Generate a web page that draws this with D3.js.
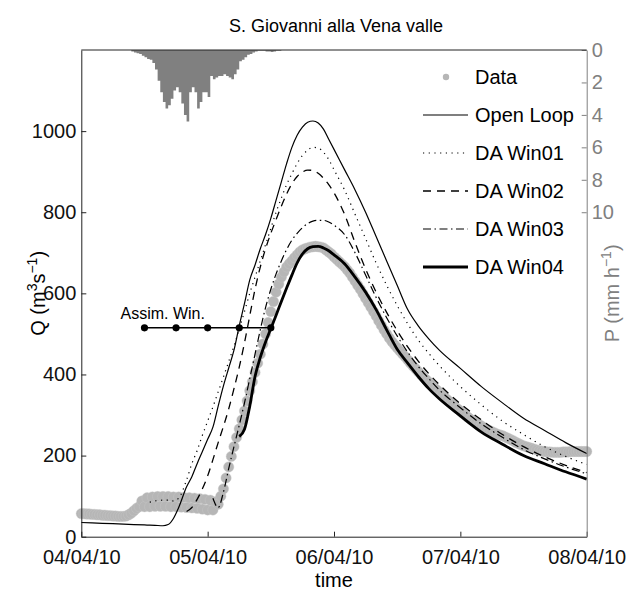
<!DOCTYPE html>
<html>
<head>
<meta charset="utf-8">
<script src="https://cdn.jsdelivr.net/npm/d3@7"></script>
<style>
  body { margin: 0; background: #fff; }
  svg { font-family: "Liberation Sans", Arial, Helvetica, sans-serif; }
</style>
</head>
<body>
<svg id="chart"></svg>
<script>
// hours since 04/04/10 00:00 for the model runs
const simHours = [0, 4, 8, 12, 13, 14, 15.5, 16.5, 17.5, 18.5,
  20, 21, 22, 23, 24, 25, 26, 27, 28, 29,
  30, 31, 32, 33, 34, 35, 36, 37, 38, 39,
  40, 41, 42, 43, 44, 45, 46, 47, 48, 50,
  52, 54, 56, 58, 60, 62, 64, 66, 68, 72,
  76, 80, 84, 88, 92, 96];

const openLoop = [35, 33, 31, 29, 28.5, 28, 27, 30, 45, 72,
  123, 148, 180, 210, 240, 270, 322, 372, 416, 460,
  520, 575, 633, 670, 710, 745, 785, 830, 875, 920,
  960, 990, 1010, 1022, 1025, 1020, 1005, 980, 955, 905,
  855, 800, 740, 680, 620, 560, 520, 488, 460, 415,
  370, 330, 292, 262, 232, 205];

const daWin01 = [null, null, null, null, 85, 88, 90, 90, 88, 95,
  140, 180, 212, 250, 285, 320, 357, 394, 432, 470,
  512, 555, 600, 640, 680, 720, 760, 800, 835, 868,
  895, 920, 940, 953, 960, 958, 948, 930, 905, 855,
  795, 735, 675, 620, 570, 525, 485, 452, 422, 370,
  325, 285, 252, 222, 198, 178];

const daWin02 = [null, null, null, null, null, null, null, null, null, null,
  62, 72, 92, 118, 150, 190, 232, 272, 315, 365,
  418, 478, 545, 610, 665, 710, 748, 782, 815, 845,
  870, 888, 899, 904, 903, 896, 884, 868, 848, 795,
  725, 660, 603, 553, 508, 468, 433, 402, 375, 328,
  288, 252, 222, 197, 176, 158];

const daWin03 = [null, null, null, null, null, null, null, null, null, null,
  null, null, null, null, null, 95, 72, 110, 168, 222,
  275, 330, 390, 450, 510, 565, 610, 648, 680, 708,
  731, 748, 762, 772, 778, 780, 780, 776, 768, 745,
  700, 645, 590, 540, 495, 455, 420, 390, 362, 318,
  278, 245, 215, 192, 172, 155];

const daWin04 = [null, null, null, null, null, null, null, null, null, null,
  null, null, null, null, null, null, null, null, null, null,
  247, 265, 322, 395, 442, 480, 513, 546, 580, 613,
  645, 675, 697, 710, 715, 716, 712, 705, 695, 673,
  640, 603, 560, 510, 462, 428, 395, 365, 340, 298,
  258, 228, 200, 180, 160, 142];

// observed discharge, one value every 30 min from 04/04/10 00:00
const observedQ = [
  57, 57, 56, 56, 55, 55, 54, 54, 53, 53, 52, 52, 51, 51, 50, 50, 50, 51, 54, 58,
  64, 70, 74, 88, 74, 96, 74, 98, 75, 99, 75, 99, 75, 99, 74, 98, 74, 98, 73, 97,
  72, 96, 71, 95, 70, 94, 68, 92, 66, 90, 66, 86, 80, 100, 118, 145, 172, 198, 222, 245,
  266, 288, 310, 335, 360, 382, 405, 428, 450, 475, 500, 528, 555, 580, 603, 623, 640, 653, 665, 673,
  680, 688, 695, 702, 707, 710, 712, 714, 715, 716, 715, 714, 712, 707, 702, 697, 690, 684, 678, 672,
  666, 658, 650, 640, 630, 620, 610, 599, 588, 577, 566, 555, 544, 532, 521, 510, 500, 490, 481, 473,
  466, 458, 451, 444, 436, 428, 421, 414, 407, 400, 393, 387, 381, 375, 368, 362, 356, 350, 344, 338,
  332, 326, 320, 315, 310, 304, 299, 294, 289, 285, 281, 277, 273, 269, 265, 262, 259, 256, 253, 251,
  249, 246, 243, 240, 237, 233, 230, 227, 224, 222, 220, 218, 216, 214, 212, 211, 210, 209, 209, 208,
  208, 208, 208, 209, 209, 209, 210, 210, 210, 210, 210, 210, 210];

// rainfall (mm/h), one value every 30 min starting at 09:30 on 04/04/10
const rainStartHour = 9.5;
const rain = [0.1, 0.15, 0.2, 0.25, 0.35, 0.45, 0.55, 0.6, 0.8, 1.2,
  1.9, 2.6, 3.2, 3.6, 3.4, 3.0, 2.5, 2.3, 2.6, 3.3,
  4.0, 4.4, 2.6, 2.3, 2.6, 3.6, 3.2, 2.6, 2.6, 2.9,
  1.6, 1.8, 1.7, 1.6, 1.6, 1.5, 1.6, 1.7, 1.8, 1.5,
  1.2, 0.7, 0.6, 0.45, 0.3, 0.25, 0.15, 0.1, 0.05, 0.05,
  0.05, 0.1, 0.1, 0.12, 0.1, 0.05, 0.05, 0];

const assimHours = [12, 18, 24, 30, 36];
const assimLevel = 515;

const qTicks = [0, 200, 400, 600, 800, 1000];
const pTicks = [0, 2, 4, 6, 8, 10];
const legendNames = ['Data', 'Open Loop', 'DA Win01', 'DA Win02', 'DA Win03', 'DA Win04'];

const width = 628, height = 594;
const margin = { top: 50, right: 41.3, bottom: 57.3, left: 81.3 };
const W = width - margin.left - margin.right;
const H = height - margin.top - margin.bottom;

const start = new Date(2010, 3, 4);
const at = h => new Date(+start + h * 36e5);

const svg = d3.select('#chart')
    .attr('width', width)
    .attr('height', height);

const g = svg.append('g')
    .attr('transform', `translate(${margin.left},${margin.top})`);

const x = d3.scaleTime().domain([at(0), at(96)]).range([0, W]);
const y = d3.scaleLinear().domain([0, 1200]).range([H, 0]);
const p = d3.scaleLinear().domain([0, 30]).range([0, H]);

// rainfall, hanging from the top axis
const rainData = rain.map((v, i) => [rainStartHour + i * 0.5, v]);
g.append('path')
    .datum(rainData)
    .attr('fill', '#808080')
    .attr('d', d3.area()
      .curve(d3.curveStepAfter)
      .x(d => x(at(d[0])))
      .y0(p(0))
      .y1(d => p(d[1])));

// observed data markers
g.append('g')
    .selectAll('circle')
    .data(observedQ)
  .enter().append('circle')
    .attr('cx', (d, i) => x(at(i * 0.5)))
    .attr('cy', d => y(d))
    .attr('r', 5.2)
    .attr('fill', '#b6b6b6')
    .attr('stroke', '#c8c8c8')
    .attr('stroke-width', 0.4);

const runs = [
  { vals: openLoop, width: 1.2, dash: null },
  { vals: daWin01, width: 1.2, dash: '1.2,4.5' },
  { vals: daWin02, width: 1.3, dash: '8,6' },
  { vals: daWin03, width: 1.2, dash: '8,3.5,1.5,3.5' },
  { vals: daWin04, width: 2.8, dash: null }
];

const line = d3.line()
    .defined(d => d[1] != null)
    .x(d => x(at(d[0])))
    .y(d => y(d[1]))
    .curve(d3.curveMonotoneX);

runs.forEach(r => {
  g.append('path')
      .datum(simHours.map((h, i) => [h, r.vals[i]]))
      .attr('fill', 'none')
      .attr('stroke', '#000')
      .attr('stroke-width', r.width)
      .attr('stroke-dasharray', r.dash)
      .attr('d', line);
});

// assimilation windows
g.append('line')
    .attr('x1', x(at(assimHours[0])))
    .attr('x2', x(at(assimHours[assimHours.length - 1])))
    .attr('y1', y(assimLevel))
    .attr('y2', y(assimLevel))
    .attr('stroke', '#000')
    .attr('stroke-width', 1.5);

g.append('g')
    .selectAll('circle')
    .data(assimHours)
  .enter().append('circle')
    .attr('cx', d => x(at(d)))
    .attr('cy', y(assimLevel))
    .attr('r', 3.6)
    .attr('fill', '#000');

g.append('text')
    .attr('x', x(at(assimHours[0])) - 24)
    .attr('y', y(assimLevel) - 9)
    .attr('font-size', 16)
    .text('Assim. Win.');

// axes
const xAxis = d3.axisBottom(x)
    .ticks(d3.timeDay.every(1))
    .tickFormat(d3.timeFormat('%d/%m/%y'))
    .tickSize(-5)
    .tickSizeOuter(0)
    .tickPadding(13);

const yAxis = d3.axisLeft(y)
    .tickValues(qTicks)
    .tickFormat(d3.format('d'))
    .tickSize(-5)
    .tickSizeOuter(0)
    .tickPadding(5);

const pAxis = d3.axisRight(p)
    .tickValues(pTicks)
    .tickSize(-5)
    .tickSizeOuter(0)
    .tickPadding(5);

g.append('g')
    .attr('class', 'x-axis')
    .attr('transform', `translate(0,${H})`)
    .call(xAxis);

g.append('g')
    .attr('class', 'y-axis')
    .call(yAxis);

g.append('g')
    .attr('class', 'p-axis')
    .attr('transform', `translate(${W},0)`)
    .call(pAxis);

g.append('line')
    .attr('x1', 0).attr('x2', W)
    .attr('y1', 0).attr('y2', 0)
    .attr('stroke', '#222');

g.selectAll('.x-axis text, .y-axis text')
    .attr('font-size', 20)
    .attr('font-family', null)
    .attr('fill', '#111');

g.selectAll('.x-axis path, .x-axis line, .y-axis path, .y-axis line')
    .attr('stroke', '#222');

g.selectAll('.p-axis text')
    .attr('font-size', 20)
    .attr('font-family', null)
    .attr('fill', '#808080');

g.selectAll('.p-axis path, .p-axis line')
    .attr('stroke', '#808080');

// titles
svg.append('text')
    .attr('x', 336)
    .attr('y', 32)
    .attr('text-anchor', 'middle')
    .attr('font-size', 18)
    .text('S. Giovanni alla Vena valle');

svg.append('text')
    .attr('x', margin.left + W / 2)
    .attr('y', 587)
    .attr('text-anchor', 'middle')
    .attr('font-size', 20)
    .text('time');

const qLabel = svg.append('text')
    .attr('transform', `translate(45,${margin.top + H / 2}) rotate(-90)`)
    .attr('text-anchor', 'middle')
    .attr('font-size', 20);
qLabel.append('tspan').text('Q (m');
qLabel.append('tspan').attr('dy', -8).attr('font-size', 14).text('3');
qLabel.append('tspan').attr('dy', 8).text('s');
qLabel.append('tspan').attr('dy', -8).attr('font-size', 14).text('\u22121');
qLabel.append('tspan').attr('dy', 8).text(')');

const pLabel = svg.append('text')
    .attr('transform', `translate(619,${margin.top + H / 2}) rotate(-90)`)
    .attr('text-anchor', 'middle')
    .attr('font-size', 20)
    .attr('fill', '#808080');
pLabel.append('tspan').text('P (mm h');
pLabel.append('tspan').attr('dy', -8).attr('font-size', 14).text('\u22121');
pLabel.append('tspan').attr('dy', 8).text(')');

// legend
const legend = svg.append('g')
    .attr('transform', 'translate(423,77)');

const rows = legend.selectAll('g')
    .data(legendNames)
  .enter().append('g')
    .attr('transform', (d, i) => `translate(0,${i * 38})`);

rows.append('text')
    .attr('x', 52)
    .attr('dy', '0.35em')
    .attr('font-size', 20)
    .text(d => d);

rows.filter((d, i) => i === 0)
    .append('circle')
    .attr('cx', 23)
    .attr('r', 3.2)
    .attr('fill', '#b6b6b6');

rows.filter((d, i) => i > 0)
    .append('line')
    .attr('x1', 0)
    .attr('x2', 45)
    .attr('stroke', '#000')
    .attr('stroke-width', (d, i) => runs[i].width)
    .attr('stroke-dasharray', (d, i) => runs[i].dash);
</script>
</body>
</html>
